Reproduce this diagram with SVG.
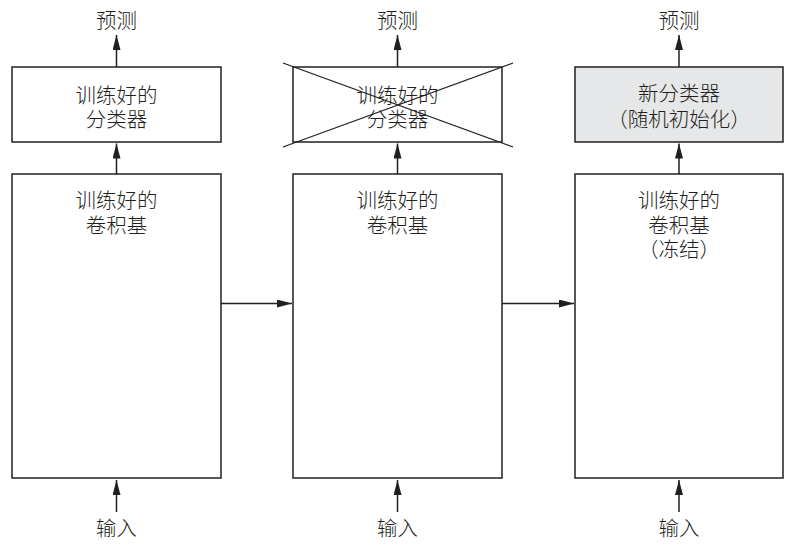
<svg xmlns="http://www.w3.org/2000/svg" width="807" height="551" viewBox="0 0 807 551">
  <defs>
    <marker id="arrow" viewBox="0 0 15 8" refX="15" refY="4" markerWidth="15" markerHeight="8" markerUnits="userSpaceOnUse" orient="auto">
      <path d="M0,0 L15,4 L0,8 Z" fill="#231f20"/>
    </marker>
  </defs>
  <style>
    .box { fill: #ffffff; stroke: #231f20; stroke-width: 1.5; }
    .box.new { fill: #e6e7e8; }
    .edge { stroke: #231f20; stroke-width: 1.5; fill: none; marker-end: url(#arrow); }
    .cross { stroke: #231f20; stroke-width: 1.3; fill: none; }
    text { font-family: "Noto Sans CJK SC", "Noto Sans CJK JP", sans-serif; font-size: 20.5px; font-weight: 300; fill: #231f20; text-anchor: middle; }
  </style>
  <rect width="807" height="551" fill="#ffffff"/>

  <!-- column 1: original model -->
  <g id="base1">
    <rect class="box" x="12" y="174" width="209" height="304"/>
    <text x="116.5" y="207.5">训练好的<tspan x="116.5" dy="25">卷积基</tspan></text>
  </g>
  <g id="clf1">
    <rect class="box" x="12" y="67" width="209" height="75"/>
    <text x="116.5" y="102.5">训练好的<tspan x="116.5" dy="24.5">分类器</tspan></text>
  </g>
  <g id="out1"><text x="116.5" y="27.5">预测</text></g>
  <g id="in1"><text x="116.5" y="535.5">输入</text></g>

  <!-- column 2: classifier removed -->
  <g id="base2">
    <rect class="box" x="293" y="174" width="209" height="304"/>
    <text x="397.5" y="207.5">训练好的<tspan x="397.5" dy="25">卷积基</tspan></text>
  </g>
  <g id="clf2">
    <rect class="box" x="293" y="67" width="209" height="75"/>
    <text x="397.5" y="102.5">训练好的<tspan x="397.5" dy="24.5">分类器</tspan></text>
    <line class="cross" x1="283" y1="63" x2="513" y2="147"/>
    <line class="cross" x1="513" y1="63" x2="283" y2="147"/>
  </g>
  <g id="out2"><text x="397.5" y="27.5">预测</text></g>
  <g id="in2"><text x="397.5" y="535.5">输入</text></g>

  <!-- column 3: frozen base with new classifier -->
  <g id="base3">
    <rect class="box" x="575" y="174" width="208" height="304"/>
    <text x="679" y="207.5">训练好的<tspan x="679" dy="25">卷积基</tspan><tspan x="679" dy="24.5">（冻结）</tspan></text>
  </g>
  <g id="clf3">
    <rect class="box new" x="575" y="67" width="208" height="75"/>
    <text x="679" y="101">新分类器<tspan x="679" dy="25.5">（随机初始化）</tspan></text>
  </g>
  <g id="out3"><text x="679" y="27.5">预测</text></g>
  <g id="in3"><text x="679" y="535.5">输入</text></g>

  <!-- connectors -->
  <g id="connectors">
    <line class="edge" x1="116.5" y1="512" x2="116.5" y2="480"/>
    <line class="edge" x1="116.5" y1="174" x2="116.5" y2="143.5"/>
    <line class="edge" x1="116.5" y1="67" x2="116.5" y2="35"/>

    <line class="edge" x1="397.5" y1="512" x2="397.5" y2="480"/>
    <line class="edge" x1="397.5" y1="174" x2="397.5" y2="143.5"/>
    <line class="edge" x1="397.5" y1="67" x2="397.5" y2="35"/>

    <line class="edge" x1="679" y1="512" x2="679" y2="480"/>
    <line class="edge" x1="679" y1="174" x2="679" y2="143.5"/>
    <line class="edge" x1="679" y1="67" x2="679" y2="35"/>

    <line class="edge" x1="221" y1="303.5" x2="292" y2="303.5"/>
    <line class="edge" x1="502" y1="303.5" x2="574" y2="303.5"/>
  </g>
</svg>
